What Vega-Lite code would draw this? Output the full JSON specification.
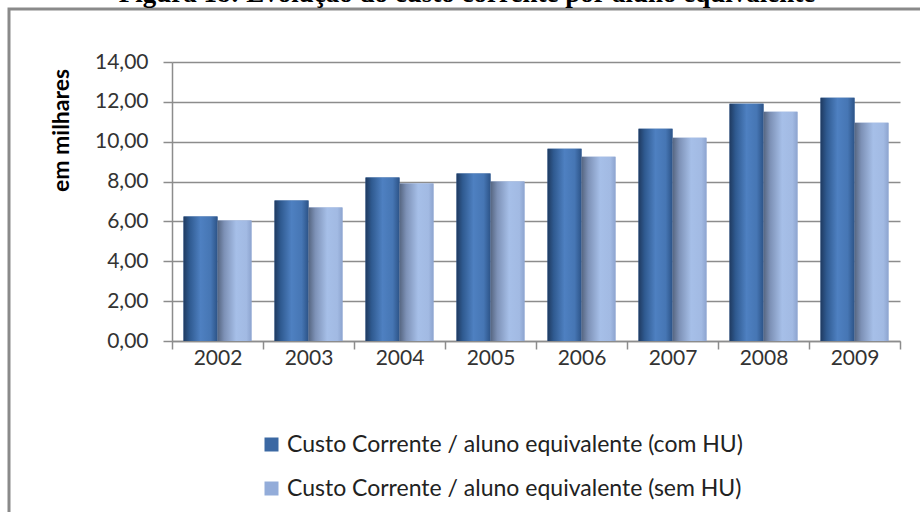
{
  "$schema": "https://vega.github.io/schema/vega-lite/v6.json",
  "autosize": {"type": "none"},
  "width": 916,
  "height": 510,
  "padding": {"left": 9, "top": 9, "right": -5, "bottom": -7},
  "background": "white",
  "title": {
    "text": "Figura 18: Evolução do custo corrente por aluno equivalente",
    "frame": "bounds",
    "anchor": "middle",
    "font": "Liberation Serif",
    "fontSize": 27,
    "fontWeight": "bold",
    "color": "#000000",
    "baseline": "alphabetic",
    "offset": 0,
    "dy": 20
  },
  "data": {
    "values": [
      {"ano": "2002", "serie": "Custo Corrente / aluno equivalente (com HU)", "valor": 6.25},
      {"ano": "2002", "serie": "Custo Corrente / aluno equivalente (sem HU)", "valor": 6.05},
      {"ano": "2003", "serie": "Custo Corrente / aluno equivalente (com HU)", "valor": 7.05},
      {"ano": "2003", "serie": "Custo Corrente / aluno equivalente (sem HU)", "valor": 6.7},
      {"ano": "2004", "serie": "Custo Corrente / aluno equivalente (com HU)", "valor": 8.2},
      {"ano": "2004", "serie": "Custo Corrente / aluno equivalente (sem HU)", "valor": 7.9},
      {"ano": "2005", "serie": "Custo Corrente / aluno equivalente (com HU)", "valor": 8.4},
      {"ano": "2005", "serie": "Custo Corrente / aluno equivalente (sem HU)", "valor": 8.0},
      {"ano": "2006", "serie": "Custo Corrente / aluno equivalente (com HU)", "valor": 9.65},
      {"ano": "2006", "serie": "Custo Corrente / aluno equivalente (sem HU)", "valor": 9.25},
      {"ano": "2007", "serie": "Custo Corrente / aluno equivalente (com HU)", "valor": 10.65},
      {"ano": "2007", "serie": "Custo Corrente / aluno equivalente (sem HU)", "valor": 10.2},
      {"ano": "2008", "serie": "Custo Corrente / aluno equivalente (com HU)", "valor": 11.9},
      {"ano": "2008", "serie": "Custo Corrente / aluno equivalente (sem HU)", "valor": 11.5},
      {"ano": "2009", "serie": "Custo Corrente / aluno equivalente (com HU)", "valor": 12.2},
      {"ano": "2009", "serie": "Custo Corrente / aluno equivalente (sem HU)", "valor": 10.95}
    ]
  },
  "encoding": {
    "x": {
      "field": "ano",
      "type": "nominal",
      "scale": {"range": [163, 891], "paddingInner": 0, "paddingOuter": 0},
      "axis": {
        "title": null,
        "offset": -178,
        "labelAngle": 0,
        "tickBand": "extent",
        "tickSize": 8,
        "labelPadding": -2,
        "grid": false
      }
    },
    "xOffset": {
      "field": "serie",
      "type": "nominal",
      "scale": {
        "domain": [
          "Custo Corrente / aluno equivalente (com HU)",
          "Custo Corrente / aluno equivalente (sem HU)"
        ],
        "paddingInner": 0,
        "paddingOuter": 0.34
      }
    },
    "y": {
      "field": "valor",
      "type": "quantitative",
      "scale": {"domain": [0, 14], "range": [332, 53], "nice": false},
      "axis": {
        "title": "em milhares",
        "titleFont": "Lato",
        "titleFontSize": 23,
        "titleFontWeight": "bold",
        "titleColor": "#000000",
        "titleAngle": -90,
        "titleAlign": "center",
        "titleBaseline": "alphabetic",
        "titleX": -104,
        "titleY": 121,
        "offset": -163,
        "values": [0, 2, 4, 6, 8, 10, 12, 14],
        "labelExpr": "replace(format(datum.value, '.2f'), '.', ',')",
        "tickSize": 9,
        "labelPadding": 15,
        "grid": true
      }
    }
  },
  "layer": [
    {
      "mark": {"type": "bar"},
      "encoding": {
        "color": {
          "field": "serie",
          "type": "nominal",
          "scale": {"range": ["#3b68a3", "#93acd9"]},
          "legend": {
            "title": null,
            "orient": "none",
            "legendX": 251,
            "legendY": 424,
            "direction": "vertical",
            "symbolType": "square",
            "symbolSize": 196,
            "symbolStrokeWidth": 0,
            "labelFont": "Lato",
            "labelFontSize": 23,
            "labelColor": "#222222",
            "labelOffset": 4,
            "rowPadding": 20,
            "padding": 0,
            "labelLimit": 700
          }
        }
      }
    },
    {
      "transform": [{"filter": "datum.serie === 'Custo Corrente / aluno equivalente (com HU)'"}],
      "mark": {
        "type": "bar",
        "color": {
          "gradient": "linear",
          "stops": [
            {"offset": 0, "color": "#1f3a60"},
            {"offset": 0.18, "color": "#2f5a90"},
            {"offset": 0.5, "color": "#4e80c1"},
            {"offset": 0.8, "color": "#4676b4"},
            {"offset": 1, "color": "#2c5387"}
          ]
        }
      }
    },
    {
      "transform": [{"filter": "datum.serie === 'Custo Corrente / aluno equivalente (sem HU)'"}],
      "mark": {
        "type": "bar",
        "color": {
          "gradient": "linear",
          "stops": [
            {"offset": 0, "color": "#556580"},
            {"offset": 0.2, "color": "#7d91b6"},
            {"offset": 0.55, "color": "#a6bfe8"},
            {"offset": 0.85, "color": "#a2bae3"},
            {"offset": 1, "color": "#8da4cf"}
          ]
        }
      }
    }
  ],
  "config": {
    "view": {"stroke": "#8a8a8a", "strokeWidth": 3},
    "axis": {
      "labelFont": "Lato",
      "labelFontSize": 21,
      "labelColor": "#333333",
      "domainColor": "#8c8c8c",
      "domainWidth": 1.5,
      "tickColor": "#8c8c8c",
      "tickWidth": 1.5,
      "gridColor": "#8c8c8c",
      "gridWidth": 1.5
    }
  }
}
